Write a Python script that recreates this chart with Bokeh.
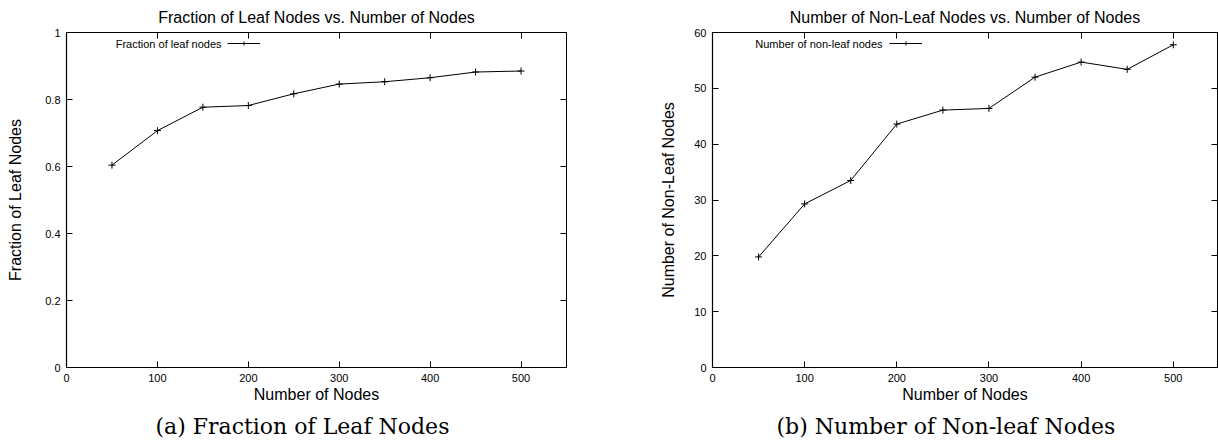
from bokeh.plotting import figure
from bokeh.models import (LinearAxis, Range1d, FixedTicker, Title, Label, Legend,
                          LegendItem, CustomJSTickFormatter)
from bokeh.layouts import row
from bokeh.embed import file_html
from bokeh.resources import INLINE

# ---- data ----
nodes = [50, 100, 150, 200, 250, 300, 350, 400, 450, 500]
leaf_fraction = [0.604, 0.707, 0.777, 0.782, 0.817, 0.846, 0.853, 0.865, 0.882, 0.885]
nonleaf_count = [19.8, 29.3, 33.5, 43.6, 46.1, 46.4, 52.0, 54.7, 53.4, 57.8]

x_ticks = [0, 100, 200, 300, 400, 500]
frac_ticks = [0, 0.2, 0.4, 0.6, 0.8, 1.0]
count_ticks = [0, 10, 20, 30, 40, 50, 60]

titles = ["Fraction of Leaf Nodes vs. Number of Nodes",
          "Number of Non-Leaf Nodes vs. Number of Nodes"]
y_labels = ["Fraction of Leaf Nodes", "Number of Non-Leaf Nodes"]
x_label = "Number of Nodes"
legend_labels = ["Fraction of leaf nodes", "Number of non-leaf nodes"]
captions = ["(a) Fraction of Leaf Nodes", "(b) Number of Non-leaf Nodes"]

SANS = "Liberation Sans"
SERIF = "DejaVu Serif"
H = 446


def style_axis(ax, ticks, labels=True):
    ax.ticker = FixedTicker(ticks=ticks)
    ax.major_tick_in = 6
    ax.major_tick_out = 0
    ax.minor_tick_in = 0
    ax.minor_tick_out = 0
    ax.major_tick_line_color = "black"
    ax.major_tick_line_width = 1
    ax.axis_line_color = "black"
    ax.axis_line_width = 1.2
    ax.major_label_text_font = SANS
    ax.major_label_text_font_size = "11px"
    ax.major_label_text_color = "black"
    ax.axis_label_text_font = SANS
    ax.axis_label_text_font_size = "16px"
    ax.axis_label_text_font_style = "normal"
    ax.axis_label_text_color = "black"
    if not labels:
        ax.formatter = CustomJSTickFormatter(code="return ''")
        ax.major_label_standoff = 0


def make_plot(width, border_left, border_right, y, y_end, yticks, idx,
              x_end, ylab_standoff, legend_x, legend_text_x, cap_offset):
    p = figure(width=width, height=H, output_backend="svg", toolbar_location=None,
               x_range=Range1d(0, x_end), y_range=Range1d(0, y_end),
               x_axis_type=None, y_axis_type=None,
               min_border_left=border_left, min_border_right=border_right,
               min_border_top=32, min_border_bottom=H - 367)
    p.grid.visible = False
    p.outline_line_color = "black"
    p.outline_line_width = 1
    p.background_fill_color = "white"
    p.border_fill_color = "white"

    p.title.text = titles[idx]
    p.title.text_font = SANS
    p.title.text_font_size = "16px"
    p.title.text_font_style = "normal"
    p.title.text_color = "black"
    p.title.align = "center"
    p.title.standoff = 13

    xb = LinearAxis(axis_label=x_label)
    style_axis(xb, x_ticks)
    xb.major_label_standoff = 6
    xb.axis_label_standoff = 1
    p.add_layout(xb, "below")

    yl = LinearAxis(axis_label=y_labels[idx])
    style_axis(yl, yticks)
    yl.major_label_standoff = 6
    yl.axis_label_standoff = ylab_standoff
    yl.formatter = CustomJSTickFormatter(code="return String(Math.round(tick*10)/10)")
    p.add_layout(yl, "left")

    xt = LinearAxis()
    style_axis(xt, x_ticks, labels=False)
    xt.axis_line_color = None
    p.add_layout(xt, "above")

    yr = LinearAxis()
    style_axis(yr, yticks, labels=False)
    yr.axis_line_color = None
    p.add_layout(yr, "right")

    cap = Title(text=captions[idx], align="left", text_font=SERIF,
                text_font_size="22px", text_font_style="normal", text_color="black",
                standoff=12, offset=cap_offset)
    p.add_layout(cap, "below")

    r_line = p.line(nodes, y, line_color="black", line_width=1)
    r_pts = p.scatter(nodes, y, marker="cross", size=7, line_color="black", line_width=1)

    leg = Legend(items=[LegendItem(label=" ", renderers=[r_line, r_pts])],
                 location=(legend_x, 367 - 48), padding=0, margin=0,
                 glyph_width=33, glyph_height=10, label_standoff=0,
                 label_text_font_size="11px", border_line_color=None,
                 background_fill_alpha=0, spacing=0)
    p.add_layout(leg)

    p.add_layout(Label(x=legend_text_x, y=367 - 43, x_units="screen", y_units="screen",
                       text=legend_labels[idx], text_align="right", text_baseline="middle",
                       text_font=SANS, text_font_size="11px", text_color="black"))
    return p


p1 = make_plot(609, 66, 43, leaf_fraction, 1.0, frac_ticks, 0,
               550, 18, 227 - 66, 221 - 66, 89)
p2 = make_plot(609, 103, 1, nonleaf_count, 60, count_ticks, 1,
               548, 14, 889 - 712, 882 - 712, 64)

layout = row(p1, p2)
open("out.html", "w").write(file_html(layout, INLINE))
